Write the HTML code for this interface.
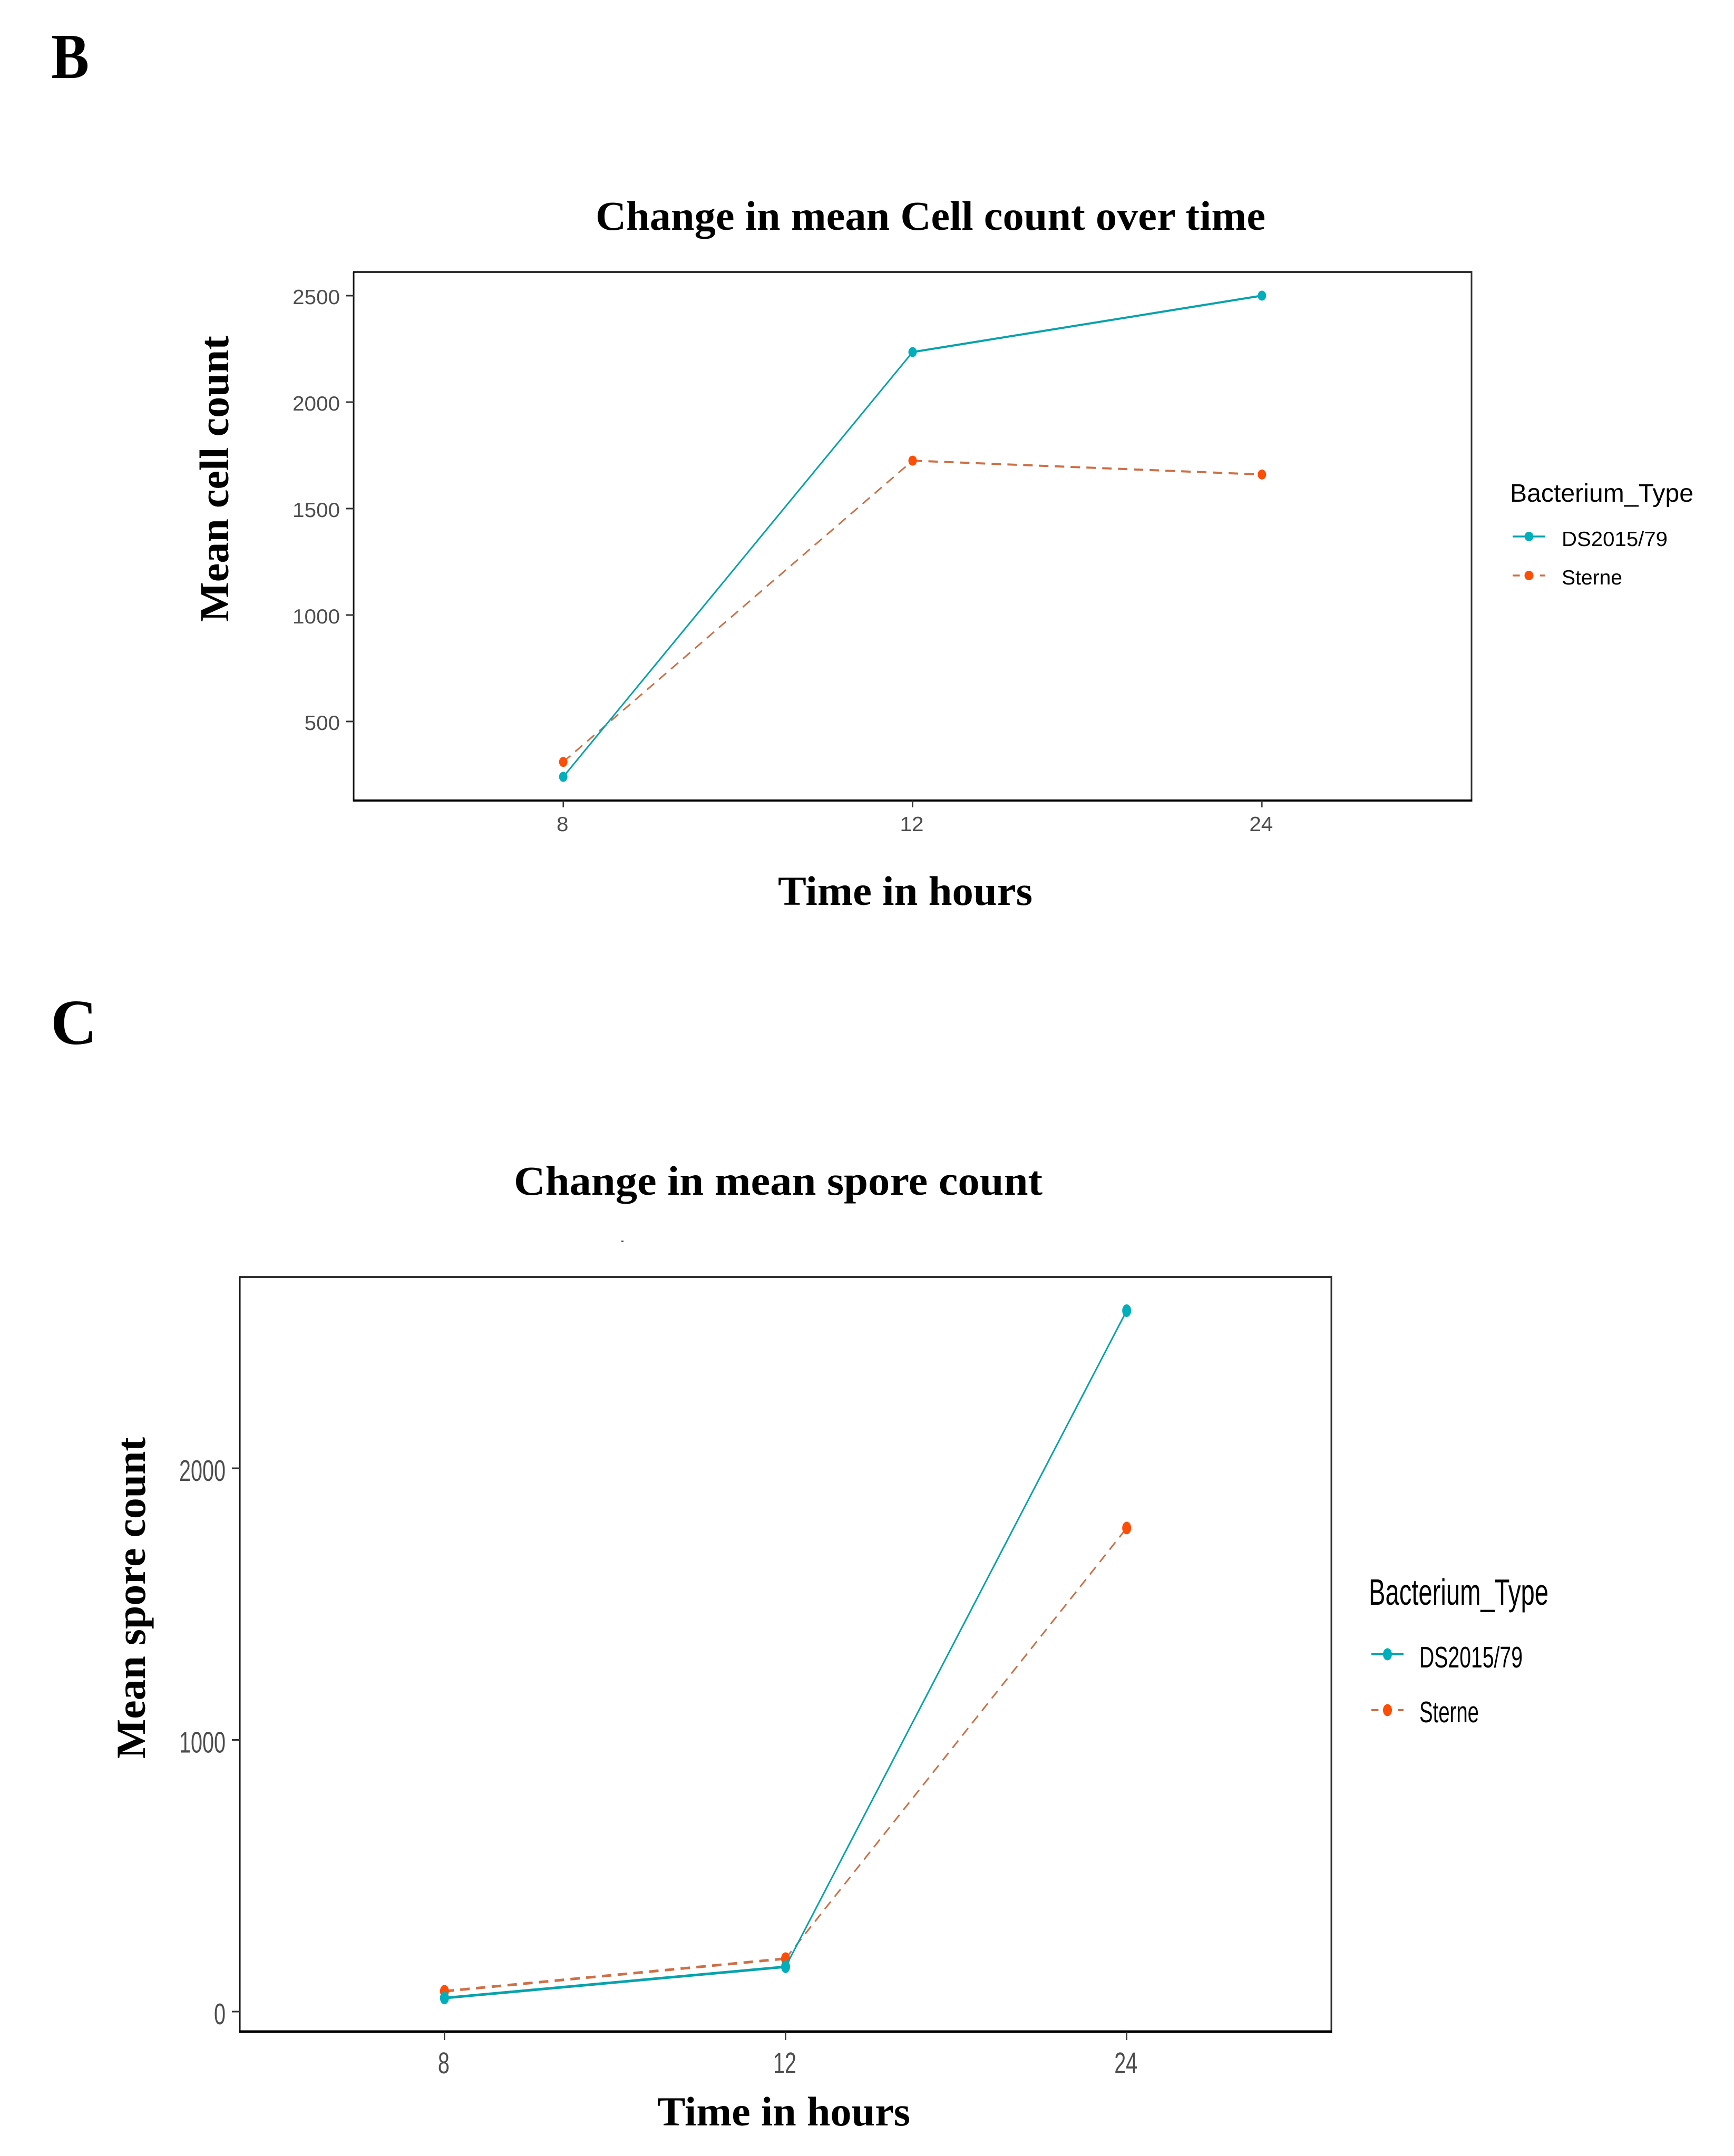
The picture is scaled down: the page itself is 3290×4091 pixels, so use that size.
<!DOCTYPE html>
<html lang="en">
<head>
<meta charset="utf-8">
<title>Change in mean cell and spore count over time</title>
<style>
  html, body { margin: 0; padding: 0; background: #fff; }
  svg { display: block; }
  .serif { font-family: "Liberation Serif", serif; font-weight: bold; fill: #000; }
  .sans { font-family: "Liberation Sans", sans-serif; }
</style>
</head>
<body>
<svg id="figure" xmlns="http://www.w3.org/2000/svg" width="3290" height="4091" viewBox="0 0 3290 4091">
  <rect x="0" y="0" width="3290" height="4091" fill="#ffffff"/>

  <text class="serif" x="97" y="148" font-size="122" textLength="72" lengthAdjust="spacingAndGlyphs">B</text>
  <text class="serif" x="96" y="1981" font-size="122">C</text>

  <g id="chart-b">
    <text class="serif" x="1130" y="436" font-size="78" textLength="1271" lengthAdjust="spacingAndGlyphs">Change in mean Cell count over time</text>
    <text class="serif" transform="translate(433 1180) rotate(-90)" font-size="78" textLength="543" lengthAdjust="spacingAndGlyphs">Mean cell count</text>
    <text class="serif" x="1476" y="1717" font-size="78" textLength="483" lengthAdjust="spacingAndGlyphs">Time in hours</text>
  </g>

  <g id="chart-c">
    <text class="serif" x="975" y="2267" font-size="78" textLength="1003" lengthAdjust="spacingAndGlyphs">Change in mean spore count</text>
    <rect x="1179" y="2354" width="4" height="2" fill="#222"/>
    <text class="serif" transform="translate(275 3337) rotate(-90)" font-size="78" textLength="610" lengthAdjust="spacingAndGlyphs">Mean spore count</text>
    <text class="serif" x="1247" y="4033" font-size="78" textLength="480" lengthAdjust="spacingAndGlyphs">Time in hours</text>
  </g>
</svg>

<script>
// ---- chart data ----
const hourCategories = ["8", "12", "24"];
const seriesNames = ["DS2015/79", "Sterne"];
const legendTitle = "Bacterium_Type";

const cellTickValues = [500, 1000, 1500, 2000, 2500];
const cellDS = [240, 2235, 2500];
const cellSterne = [310, 1725, 1660];

const sporeTickValues = [0, 1000, 2000];
const sporeDS = [50, 165, 2580];
const sporeSterne = [75, 195, 1780];

// ---- helpers ----
const NS = "http://www.w3.org/2000/svg";
const TEAL = "#00AFBB";
const TEAL_LINE = "#08a2ac";
const ORANGE = "#FC4E07";
const ORANGE_LINE = "#cc7048";

function make(parent, tag, attrs, content) {
  const node = document.createElementNS(NS, tag);
  Object.keys(attrs).forEach(function (k) { node.setAttribute(k, attrs[k]); });
  if (content !== undefined) node.textContent = content;
  parent.appendChild(node);
  return node;
}

function drawChart(opts) {
  const g = document.getElementById(opts.groupId);
  const p = opts.panel;
  const categoryStep = (p.right - p.left) / (hourCategories.length - 1 + 1.2);
  const xScale = function (i) { return p.left + categoryStep * (0.6 + i); };
  const yScale = function (v) { return opts.yZero - (v - opts.yBase) * opts.ySlope; };

  // plot area background and border
  const plotArea = make(g, "rect", { x: p.left, y: p.top, width: p.right - p.left, height: p.bottom - p.top, fill: "#fff" });
  
  

  const borderTop = make(g, "line", { x1: p.left - 1, y1: p.top, x2: p.right + 1.5, y2: p.top, stroke: "#333", "stroke-width": 4 });
  
  
  const borderRight = make(g, "line", { x1: p.right, y1: p.top, x2: p.right, y2: p.bottom, stroke: "#333", "stroke-width": 3 });
  
  
  const borderLeft = make(g, "line", { x1: p.left, y1: p.top, x2: p.left, y2: p.bottom, stroke: "#111", "stroke-width": 3 });
  
  
  const borderBottom = make(g, "line", { x1: p.left - 1.5, y1: p.bottom, x2: p.right + 1.5, y2: p.bottom, stroke: "#000", "stroke-width": opts.bottomWidth });
  
  

  // y axis ticks
  opts.ticks.forEach(function (v) {
    const y = yScale(v);
    const tick = make(g, "line", { x1: p.left - opts.yTickLen, y1: y, x2: p.left, y2: y, stroke: "#333", "stroke-width": 3 });
    
    
    const label = String(v);
    const text = make(g, "text", { x: opts.yLabelRight, y: y + opts.tickCap / 2 + opts.labelDy, "text-anchor": "end", "font-size": opts.tickFont, fill: "#4d4d4d", class: "sans", textLength: label.length * opts.tickCharW, lengthAdjust: "spacingAndGlyphs" }, label);
    
    
  });

  // x axis ticks
  hourCategories.forEach(function (c, i) {
    const x = xScale(i);
    const tick = make(g, "line", { x1: x, y1: p.bottom, x2: x, y2: p.bottom + opts.xTickLen, stroke: "#333", "stroke-width": 2.5 });
    
    
    const text = make(g, "text", { x: x - 1.5, y: opts.xLabelBaseline, "text-anchor": "middle", "font-size": opts.tickFont, fill: "#4d4d4d", class: "sans", textLength: c.length * opts.tickCharW, lengthAdjust: "spacingAndGlyphs" }, c);
    
    
  });

  // series: Sterne first, DS on top; shallow segments look heavier in the reference
  function drawSeries(values, lineColor, markColor, dash, name) {
    for (let i = 0; i + 1 < values.length; i++) {
      const x1 = xScale(i), y1 = yScale(values[i]), x2 = xScale(i + 1), y2 = yScale(values[i + 1]);
      const shallow = Math.abs(y2 - y1) < Math.abs(x2 - x1) * 0.5;
      const attrs = { x1: x1, y1: y1, x2: x2, y2: y2, stroke: lineColor, "stroke-width": shallow ? opts.shallowWidth : opts.lineWidth };
      if (dash) attrs["stroke-dasharray"] = dash;
      const seg = make(g, "line", attrs);
      
      
    }
    values.forEach(function (v, i) {
      const dot = make(g, "ellipse", { cx: xScale(i), cy: yScale(v), rx: opts.markRx, ry: opts.markRy, fill: markColor });
      
      
    });
  }
  drawSeries(opts.sterne, ORANGE_LINE, ORANGE, "18 12", "sterne");
  drawSeries(opts.ds, TEAL_LINE, TEAL, null, "ds2015-79");

  // legend
  const L = opts.legend;
  const title = make(g, "text", { x: L.titleX, y: L.titleY, "font-size": L.titleFont, fill: "#000", class: "sans", textLength: L.titleW, lengthAdjust: "spacingAndGlyphs" }, legendTitle);
  
  

  const keyMid = (L.keyX1 + L.keyX2) / 2;
  const dsKey = make(g, "line", { x1: L.keyX1, y1: L.y1, x2: L.keyX2, y2: L.y1, stroke: TEAL_LINE, "stroke-width": L.keyWidth });
  
  
  const dsDot = make(g, "ellipse", { cx: keyMid, cy: L.y1, rx: L.rx, ry: L.ry, fill: TEAL });
  
  
  const dsLabel = make(g, "text", { x: L.labelX, y: L.base1, "font-size": L.labelFont, fill: "#000", class: "sans", textLength: L.labelW1, lengthAdjust: "spacingAndGlyphs" }, seriesNames[0]);
  
  

  const seg = (L.keyX2 - L.keyX1) * 0.22;
  const sKeyA = make(g, "line", { x1: L.keyX1, y1: L.y2, x2: L.keyX1 + seg, y2: L.y2, stroke: ORANGE_LINE, "stroke-width": L.keyWidth });
  
  
  const sKeyB = make(g, "line", { x1: L.keyX2 - seg * 0.75, y1: L.y2, x2: L.keyX2, y2: L.y2, stroke: ORANGE_LINE, "stroke-width": L.keyWidth });
  
  
  const sDot = make(g, "ellipse", { cx: keyMid, cy: L.y2, rx: L.rx, ry: L.ry, fill: ORANGE });
  
  
  const sLabel = make(g, "text", { x: L.labelX, y: L.base2, "font-size": L.labelFont, fill: "#000", class: "sans", textLength: L.labelW2, lengthAdjust: "spacingAndGlyphs" }, seriesNames[1]);
  
  
}

drawChart({
  groupId: "chart-b", prefix: "cell",
  panel: { left: 671, right: 2792, top: 516, bottom: 1519 },
  yBase: 500, yZero: 1369, ySlope: 0.404,
  ticks: cellTickValues, ds: cellDS, sterne: cellSterne,
  yTickLen: 15, xTickLen: 13, yLabelRight: 645, xLabelBaseline: 1577,
  tickFont: 39, tickCap: 28, tickCharW: 22.5, labelDy: 2,
  lineWidth: 3, shallowWidth: 4, bottomWidth: 4, markRx: 8, markRy: 9.5,
  legend: {
    titleX: 2865, titleY: 952, titleFont: 48, titleW: 348,
    keyX1: 2870, keyX2: 2932, keyWidth: 3.5, rx: 8.5, ry: 9,
    labelX: 2963, labelFont: 39, labelW1: 201, labelW2: 115,
    y1: 1018, base1: 1036, y2: 1092, base2: 1109
  }
});

drawChart({
  groupId: "chart-c", prefix: "spore",
  panel: { left: 455, right: 2526, top: 2423, bottom: 3855 },
  yBase: 0, yZero: 3817, ySlope: 0.5155,
  ticks: sporeTickValues, ds: sporeDS, sterne: sporeSterne,
  yTickLen: 15, xTickLen: 16, yLabelRight: 428, xLabelBaseline: 3934,
  tickFont: 57, tickCap: 42, tickCharW: 22, labelDy: 3,
  lineWidth: 3, shallowWidth: 5, bottomWidth: 5, markRx: 8.5, markRy: 12,
  legend: {
    titleX: 2597, titleY: 3045, titleFont: 70, titleW: 341,
    keyX1: 2602, keyX2: 2663, keyWidth: 4, rx: 8.5, ry: 11.5,
    labelX: 2693, labelFont: 57, labelW1: 196, labelW2: 113,
    y1: 3139, base1: 3164, y2: 3245, base2: 3268
  }
});
</script>
</body>
</html>
